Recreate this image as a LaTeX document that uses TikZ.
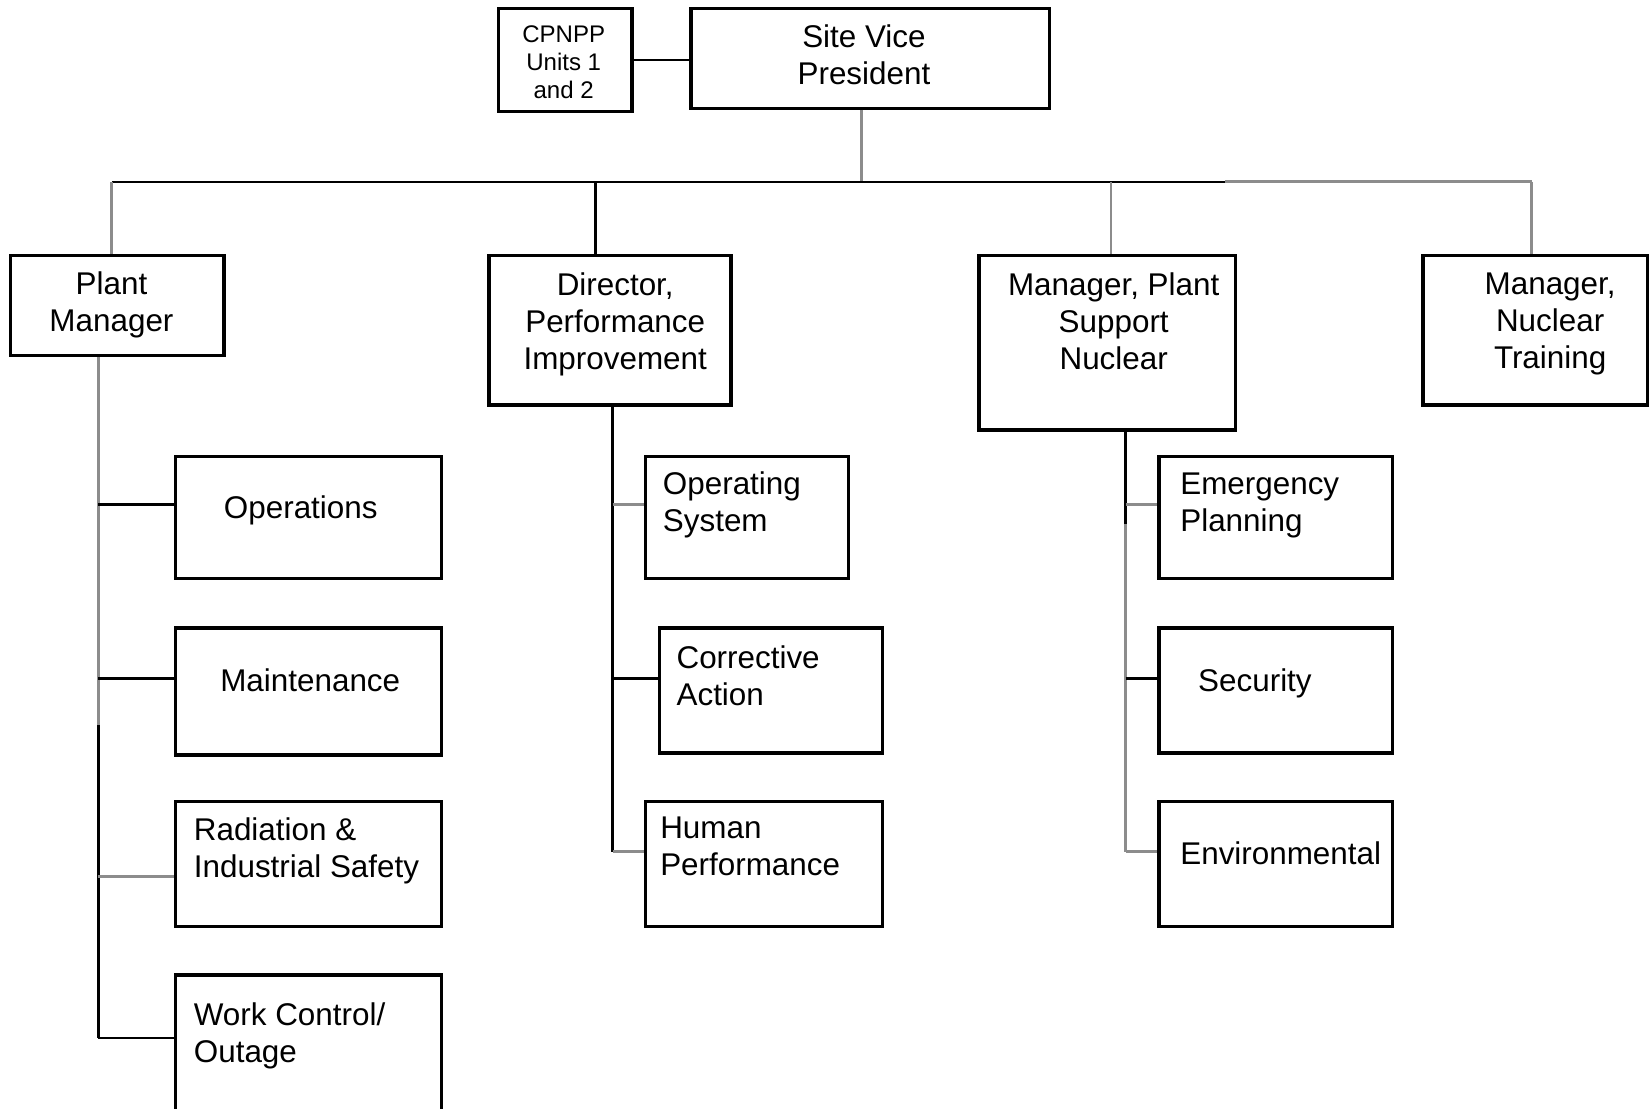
\documentclass[tikz,border=0pt]{standalone}
\usepackage{fontspec}
\setmainfont{Liberation Sans}
\usetikzlibrary{fit,calc}

\tikzset{
  box/.style={draw=black, line width=1.8pt, inner sep=0pt, fill=white},
  lbl/.style={inner sep=0pt, font=\fontsize{17}{20}\selectfont},
  small/.style={inner sep=0pt, font=\fontsize{13}{15.3}\selectfont, align=center},
  link/.style={draw=black, line width=1.5pt},
  glink/.style={draw=black!45, line width=1.6pt},
}

\begin{document}
\begin{tikzpicture}[x=0.02cm, y=-0.02cm]
\useasboundingbox (0,0) rectangle (1568,1054);
\clip (0,0) rectangle (1568,1054);
\fill[white] (0,0) rectangle (1568,1054);

% ---------- top level ----------
\node[box, fit={(474,8) (601,106)}] (cp) {};
\node[small, anchor=north] (cpt) at (536,24) {CPNPP\\Units 1\\and 2};
\node[box, fit={(657,8) (998,103)}] (vp) {};
\node[lbl, align=center, anchor=north] (vpt) at (821.5,23) {Site Vice\\President};

% ---------- second level ----------
\node[box, fit={(10,243) (213,338)}] (pm) {};
\node[lbl, align=center, anchor=north] (pmt) at (106,258.5) {Plant\\Manager};
\node[box, fit={(465,243) (695,385)}] (dpi) {};
\node[lbl, align=center, anchor=north] (dpit) at (585,259) {Director,\\Performance\\Improvement};
\node[box, fit={(931,243) (1175,409)}] (mpsn) {};
\node[lbl, align=center, anchor=north] (mpsnt) at (1059,259) {Manager, Plant\\Support\\Nuclear};
\node[box, fit={(1353,243) (1567,385)}] (mnt) {};
\node[lbl, align=center, anchor=north] (mntt) at (1474,259) {Manager,\\Nuclear\\Training};

% ---------- Plant Manager group ----------
\node[box, fit={(167,434) (420,550)}] (ops) {};
\node[lbl, anchor=north] (opst) at (286,471) {Operations};
\node[box, fit={(167,597) (420,718)}] (mnc) {};
\node[lbl, anchor=north] (mnct) at (295,636) {Maintenance};
\node[box, fit={(167,762) (420,881)}] (rad) {};
\node[lbl, align=left, anchor=north west] (radt) at (184,777) {Radiation \&\\Industrial Safety};
\node[box, fit={(167,927) (420,1080)}] (wc) {};
\node[lbl, align=left, anchor=north west] (wct) at (184,953) {Work Control/\\Outage};

% ---------- Performance Improvement group ----------
\node[box, fit={(614,434) (807,550)}] (os) {};
\node[lbl, align=left, anchor=north west] (ost) at (630,448.5) {Operating\\System};
\node[box, fit={(627,597) (839,716)}] (ca) {};
\node[lbl, align=left, anchor=north west] (cat) at (643,614) {Corrective\\Action};
\node[box, fit={(614,762) (839,881)}] (hp) {};
\node[lbl, align=left, anchor=north west] (hpt) at (627.5,776.5) {Human\\Performance};

% ---------- Plant Support group ----------
\node[box, fit={(1102,434) (1324,550)}] (ep) {};
\node[lbl, align=left, anchor=north west] (ept) at (1122,449) {Emergency\\Planning};
\node[box, fit={(1102,597) (1324,716)}] (sec) {};
\node[lbl, anchor=north west] (sect) at (1139,635.5) {Security};
\node[box, fit={(1102,762) (1324,881)}] (env) {};
\node[lbl, anchor=north west] (envt) at (1122,800) {Environmental};

% ---------- connector points ----------
\coordinate (bus) at (0,173);
\coordinate (vpdrop) at ($(vp.south west)+(164,0)$);
\coordinate (pmdrop) at ($(pm.north west)+(98,0)$);
\coordinate (dpidrop) at ($(dpi.north west)+(103,0)$);
\coordinate (mpsndrop) at ($(mpsn.north west)+(127,0)$);
\coordinate (mntdrop) at ($(mnt.north west)+(105,0)$);
\coordinate (busmid) at (1165,173);

\coordinate (pmtrunk) at ($(pm.south west)+(85,0)$);
\coordinate (dpitrunk) at ($(dpi.south west)+(119,0)$);
\coordinate (mpsntrunk) at ($(mpsn.south west)+(141,0)$);

\coordinate (ops-in) at ($(ops.west)+(0,-12)$);
\coordinate (mnc-in) at ($(mnc.west)+(0,-12.5)$);
\coordinate (rad-in) at ($(rad.west)+(0,11.5)$);
\coordinate (wc-in)  at ($(wc.west)+(0,-16.5)$);
\coordinate (os-in)  at ($(os.west)+(0,-12)$);
\coordinate (ca-in)  at ($(ca.west)+(0,-11.5)$);
\coordinate (hp-in)  at ($(hp.west)+(0,-11.5)$);
\coordinate (ep-in)  at ($(ep.west)+(0,-12)$);
\coordinate (sec-in) at ($(sec.west)+(0,-11.5)$);
\coordinate (env-in) at ($(env.west)+(0,-11.5)$);

% ---------- connectors ----------
\draw[link] (cp.east) -- (cp.east -| vp.west);
\draw[glink] (vpdrop) -- (vpdrop |- bus);
\draw[link] (pmdrop |- bus) -- (busmid);
\draw[glink] (busmid) -- (mntdrop |- bus);
\draw[glink] (pmdrop |- bus) -- (pmdrop);
\draw[link] (dpidrop |- bus) -- (dpidrop);
\draw[glink] (mpsndrop |- bus) -- (mpsndrop);
\draw[glink] (mntdrop |- bus) -- (mntdrop);

% Plant Manager trunk
\draw[glink] (pmtrunk) -- ($(pmtrunk)+(0,350)$);
\draw[link] ($(pmtrunk)+(0,350)$) -- (pmtrunk |- wc-in);
\draw[link] (pmtrunk |- ops-in) -- (ops-in);
\draw[link] (pmtrunk |- mnc-in) -- (mnc-in);
\draw[glink] (pmtrunk |- rad-in) -- (rad-in);
\draw[link] (pmtrunk |- wc-in) -- (wc-in);

% Performance Improvement trunk
\draw[link] (dpitrunk) -- (dpitrunk |- hp-in);
\draw[glink] (dpitrunk |- os-in) -- (os-in);
\draw[link] (dpitrunk |- ca-in) -- (ca-in);
\draw[glink] (dpitrunk |- hp-in) -- (hp-in);

% Plant Support trunk
\draw[link] (mpsntrunk) -- ($(mpsntrunk)+(0,88)$);
\draw[glink] ($(mpsntrunk)+(0,88)$) -- (mpsntrunk |- env-in);
\draw[glink] (mpsntrunk |- ep-in) -- (ep-in);
\draw[link] (mpsntrunk |- sec-in) -- (sec-in);
\draw[glink] (mpsntrunk |- env-in) -- (env-in);
\end{tikzpicture}
\end{document}
